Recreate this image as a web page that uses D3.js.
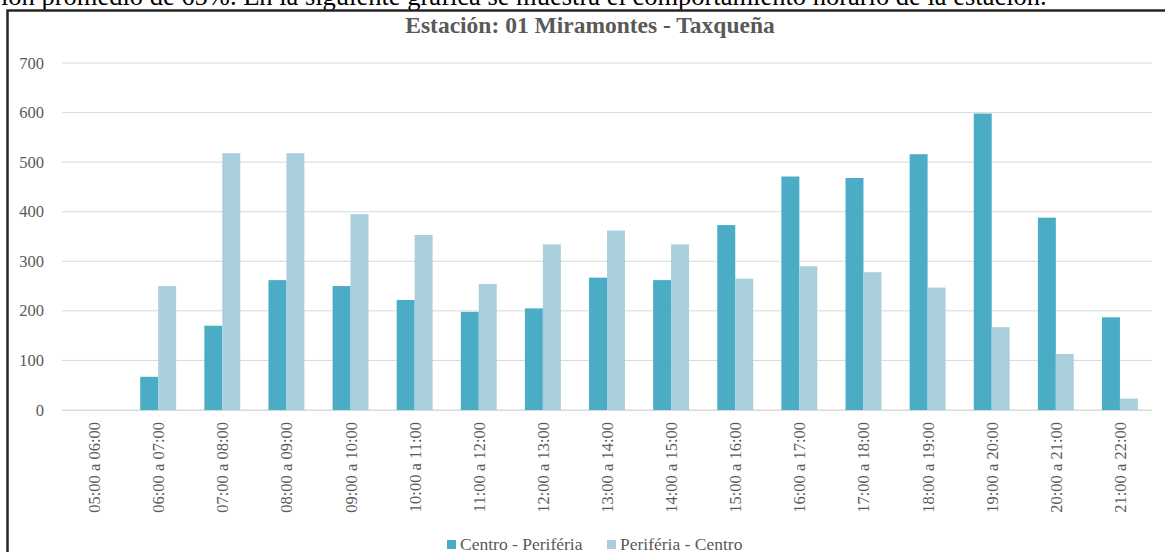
<!DOCTYPE html>
<html>
<head>
<meta charset="utf-8">
<script src="https://cdn.jsdelivr.net/npm/d3@7"></script>
<style>
  body { margin: 0; background: #fff; }
  svg { display: block; }
</style>
</head>
<body>
<svg id="chart" width="1165" height="552"></svg>
<script>
var categories = ["05:00 a 06:00", "06:00 a 07:00", "07:00 a 08:00", "08:00 a 09:00", "09:00 a 10:00",
    "10:00 a 11:00", "11:00 a 12:00", "12:00 a 13:00", "13:00 a 14:00", "14:00 a 15:00",
    "15:00 a 16:00", "16:00 a 17:00", "17:00 a 18:00", "18:00 a 19:00", "19:00 a 20:00",
    "20:00 a 21:00", "21:00 a 22:00"];
var centroPeriferia = [0, 67, 170, 262, 250, 222, 198, 205, 267, 262, 373, 471, 468, 516, 598, 388, 187];
var periferiaCentro = [0, 250, 518, 518, 395, 353, 254, 334, 362, 334, 265, 290, 278, 247, 167, 113, 23];
var seriesNames = ["Centro - Periféria", "Periféria - Centro"];
var yTicks = [0, 100, 200, 300, 400, 500, 600, 700];

var COLORS = ["#4bacc6", "#a9cfdd"];
var TEXT_GRAY = "#595959";
var FONT = "Liberation Serif";

var svg = d3.select("#chart");

// texto del documento cortado arriba
svg.append("text")
    .attr("x", 1)
    .attr("y", 5)
    .attr("font-family", FONT)
    .attr("font-size", 26.5)
    .attr("fill", "#000")
    .text("ión promedio de 65%. En la siguiente gráfica se muestra el comportamiento horario de la estación.");

// marco del grafico
svg.append("rect")
    .attr("x", 7.5)
    .attr("y", 10.5)
    .attr("width", 1170)
    .attr("height", 560)
    .attr("fill", "none")
    .attr("stroke", "#262626")
    .attr("stroke-width", 2.5);

svg.append("text")
    .attr("x", 590)
    .attr("y", 33)
    .attr("text-anchor", "middle")
    .attr("font-family", FONT)
    .attr("font-weight", "bold")
    .attr("font-size", 23.5)
    .attr("fill", TEXT_GRAY)
    .text("Estación: 01 Miramontes - Taxqueña");

var x = d3.scaleBand()
    .domain(categories)
    .range([62, 1152])
    .paddingInner(0.44)
    .paddingOuter(0.22);

var x1 = d3.scaleBand()
    .domain([0, 1])
    .range([0, x.bandwidth()]);

var y = d3.scaleLinear()
    .domain([0, 700])
    .range([410, 63]);

// rejilla
svg.append("g")
    .selectAll("line")
    .data(yTicks)
    .enter().append("line")
    .attr("x1", 62)
    .attr("x2", 1152)
    .attr("y1", function(d) { return y(d); })
    .attr("y2", function(d) { return y(d); })
    .attr("stroke", "#d9d9d9")
    .attr("stroke-width", 1);

svg.append("g")
    .selectAll("text")
    .data(yTicks)
    .enter().append("text")
    .attr("x", 44)
    .attr("y", function(d) { return y(d) + 5.5; })
    .attr("text-anchor", "end")
    .attr("font-family", FONT)
    .attr("font-size", 16.5)
    .attr("fill", TEXT_GRAY)
    .text(function(d) { return d; });

var rows = categories.map(function(c, i) {
    return {"cat": c, "values": [centroPeriferia[i], periferiaCentro[i]]};
});

var groups = svg.append("g")
    .selectAll("g")
    .data(rows)
    .enter().append("g")
    .attr("transform", function(d) { return "translate(" + x(d.cat) + ",0)"; });

groups.selectAll("rect")
    .data(function(d) { return d.values; })
    .enter().append("rect")
    .attr("x", function(d, i) { return x1(i); })
    .attr("width", x1.bandwidth())
    .attr("y", function(d) { return y(d); })
    .attr("height", function(d) { return y(0) - y(d); })
    .attr("fill", function(d, i) { return COLORS[i]; });

// eje x
svg.append("line")
    .attr("x1", 62)
    .attr("x2", 1152)
    .attr("y1", y(0) + 0.5)
    .attr("y2", y(0) + 0.5)
    .attr("stroke", "#d9d9d9");

svg.append("g")
    .selectAll("text")
    .data(categories)
    .enter().append("text")
    .attr("transform", function(d) {
        return "translate(" + (x(d) + x.bandwidth() / 2 + 6) + ",422) rotate(-90)";
    })
    .attr("text-anchor", "end")
    .attr("font-family", FONT)
    .attr("font-size", 16.5)
    .attr("fill", TEXT_GRAY)
    .text(function(d) { return d; });

// leyenda
var legendX = [447, 607];
var legend = svg.append("g")
    .selectAll("g")
    .data(seriesNames)
    .enter().append("g")
    .attr("transform", function(d, i) { return "translate(" + legendX[i] + ",540)"; });

legend.append("rect")
    .attr("width", 9)
    .attr("height", 9)
    .attr("fill", function(d, i) { return COLORS[i]; });

legend.append("text")
    .attr("x", 13)
    .attr("y", 9.5)
    .attr("font-family", FONT)
    .attr("font-size", 17.5)
    .attr("fill", TEXT_GRAY)
    .text(function(d) { return d; });
</script>
</body>
</html>
